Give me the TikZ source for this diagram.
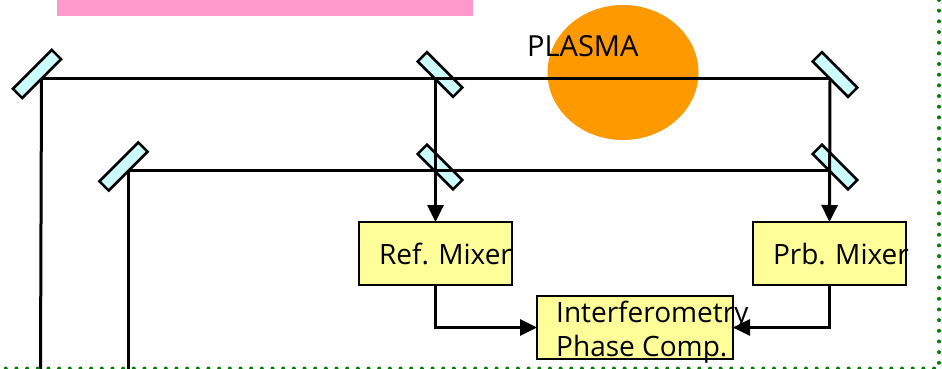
\documentclass[tikz,border=0pt]{standalone}
\usepackage{fontspec}
\setmainfont{Open Sans}
\usetikzlibrary{shapes.geometric, arrows.meta}
\definecolor{pinkbar}{HTML}{FF99CC}
\definecolor{plasmaorange}{HTML}{FF9900}
\definecolor{mirrorcyan}{HTML}{CCFFFF}
\definecolor{boxyellow}{HTML}{FFFF99}
\definecolor{framegreen}{HTML}{008000}
\tikzstyle{mirror} = [rectangle,minimum width=50pt,minimum height=13pt,inner sep=0pt,draw=black,line width=2.6pt,fill=mirrorcyan]
\tikzstyle{mixer} = [rectangle,minimum width=153pt,minimum height=63pt,inner xsep=20pt,inner ysep=0pt,outer sep=0pt,text width=113pt,align=left,draw=black,line width=2.8pt,fill=boxyellow]
\tikzstyle{beam} = [line width=3pt]
\tikzstyle{arrow} = [line width=3pt,-{Triangle[length=17pt,width=16pt]}]
\tikzstyle{frame} = [framegreen,line width=4pt,line cap=round,dash pattern=on 0pt off 10.67pt]

\begin{document}
\begin{tikzpicture}[x=1pt,y=-1pt,font=\fontsize{28}{34}\selectfont]
\useasboundingbox (0,0) rectangle (942,369);

\fill [pinkbar] (57,0) rectangle (473,16);
\node (plasma) [ellipse,minimum width=151pt,minimum height=135pt,inner sep=0pt,fill=plasmaorange] at (623,72.5) {};
\node (plasmatext) [anchor=base west,inner sep=0pt,font=\fontsize{29}{34}\selectfont] at (527,57) {PLASMA};

\node (m1) [mirror,rotate=45,minimum width=55pt] at (37,74) {};
\node (m2) [mirror,rotate=45,minimum width=55pt] at (123.5,166.5) {};
\node (m3) [mirror,rotate=-45] at (440,74.5) {};
\node (m4) [mirror,rotate=-45] at (440,167) {};
\node (m5) [mirror,rotate=-45] at (835,74.5) {};
\node (m6) [mirror,rotate=-45] at (835,167) {};

\node (ref) [mixer] at (435.5,253.5) {\rule{0pt}{23.3pt}\mbox{Ref.\ Mixer}};
\node (prb) [mixer] at (829.5,253.5) {\rule{0pt}{23.3pt}\mbox{Prb.\ Mixer}};
\node (phase) [mixer,minimum width=196pt,text width=158pt,inner xsep=19pt] at (635,327.5) {};
\node (phasetext) [anchor=base west,inner sep=0pt,align=left] at (556,356) {Interferometry\\Phase Comp.};

\coordinate (hit1) at (41.5,78.5);
\coordinate (hit2) at (128.5,170.5);
\coordinate (hit3) at (435.5,78.5);
\coordinate (hit5) at (830,78.5);
\coordinate (hit6) at (830,170.5);
\coordinate (out1) at (40.5,369);
\coordinate (out2) at (128.5,369);
\coordinate (corner) at (939,369);
\coordinate (framestart) at (939,0);
\coordinate (frameend) at (0,368.5);

\draw [beam] (hit1) -- (hit5);
\draw [beam] (hit2) -- (hit6);
\draw [beam] (hit1) -- (out1);
\draw [beam] (hit2) -- (out2);
\draw [arrow] (hit3) -- (ref.north);
\draw [arrow] (hit5) -- (prb.north);
\draw [arrow] (ref.south) |- (phase.west);
\draw [arrow] (prb.south) |- (phase.east);

\draw [frame] (framestart) -- (corner |- frameend) -- (frameend);

\end{tikzpicture}
\end{document}
